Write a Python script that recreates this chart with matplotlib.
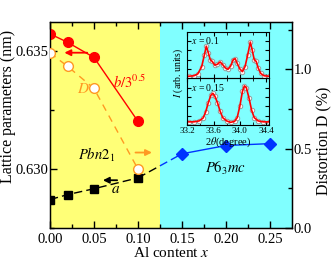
import matplotlib
matplotlib.use('Agg')
from matplotlib import pyplot as plt
from matplotlib.patches import Rectangle
import numpy as np

plt.rcParams['font.family'] = ['Liberation Serif', 'DejaVu Serif']
plt.rcParams['mathtext.fontset'] = 'stix'

# main data
al_x = [0.0, 0.02, 0.05, 0.10]
b_vals = [0.63571, 0.63535, 0.63471, 0.63200]
a_vals = [0.62869, 0.62890, 0.62915, 0.62961]
d_vals = [1.105, 1.02, 0.88, 0.37]
hex_x = [0.15, 0.20, 0.25]
hex_a = [0.63063, 0.63098, 0.63106]
boundary = 0.125

# inset XRD profiles (fraction of panel height)
tt_01 = [33.22, 33.30, 33.36, 33.42, 33.46, 33.49, 33.52, 33.55, 33.58, 33.62, 33.66,
         33.70, 33.74, 33.78, 33.82, 33.86, 33.90, 33.93, 33.96, 34.00, 34.04, 34.08,
         34.12, 34.16, 34.19, 34.22, 34.25, 34.28, 34.32, 34.37, 34.45]
i_01 = [0.04, 0.05, 0.09, 0.25, 0.50, 0.69, 0.55, 0.40, 0.36, 0.28, 0.30,
        0.35, 0.29, 0.22, 0.19, 0.26, 0.40, 0.42, 0.32, 0.20, 0.14, 0.25,
        0.50, 0.78, 0.60, 0.40, 0.36, 0.22, 0.10, 0.05, 0.04]
tt_015 = [33.22, 33.30, 33.38, 33.44, 33.48, 33.52, 33.56, 33.59, 33.62, 33.66, 33.70,
          33.74, 33.80, 33.86, 33.92, 33.96, 34.00, 34.04, 34.07, 34.10, 34.14, 34.18,
          34.22, 34.28, 34.36, 34.45]
i_015 = [0.07, 0.07, 0.09, 0.15, 0.28, 0.48, 0.64, 0.68, 0.62, 0.48, 0.30,
         0.16, 0.09, 0.06, 0.08, 0.16, 0.40, 0.72, 0.84, 0.80, 0.58, 0.32,
         0.16, 0.09, 0.07, 0.07]

red = '#ff0000'
orange = '#ff9922'
blue = '#0033ff'

fig = plt.figure(figsize=(3.35, 2.75), dpi=100)
ax = fig.add_axes([0.149, 0.172, 0.723, 0.748])
ax.axvspan(0, boundary, color='#ffff77', zorder=0, lw=0)
ax.axvspan(boundary, 0.275, color='#80ffff', zorder=0, lw=0)
ax.set_xlim(0, 0.275)
ax.set_ylim(0.62824, 0.63621)

ax.plot(al_x, b_vals, '-o', color=red, ms=7, lw=1, zorder=5)
ax.plot(al_x, a_vals, '--s', color='black', ms=5.5, lw=1, dashes=(6, 3), zorder=5)
ax.plot(hex_x, hex_a, '-D', color=blue, ms=6, lw=1, zorder=5)
# dashed link across phase boundary, black on the yellow side, blue on the cyan side
ln1, = ax.plot([al_x[-1], hex_x[0]], [a_vals[-1], hex_a[0]], '--', color='black', lw=1, dashes=(6, 3), zorder=4)
ln1.set_clip_path(Rectangle((0, 0.62), boundary, 0.02, transform=ax.transData))
ln2, = ax.plot([al_x[-1], hex_x[0]], [a_vals[-1], hex_a[0]], '--', color=blue, lw=1, dashes=(6, 3), zorder=4)
ln2.set_clip_path(Rectangle((boundary, 0.62), 0.2, 0.02, transform=ax.transData))

ax.annotate('', xy=(0.0133, 0.63491), xytext=(0.0455, 0.63491),
            arrowprops=dict(arrowstyle='-|>', color=red, lw=1.3, mutation_scale=9), zorder=6)
ax.annotate('', xy=(0.057, 0.62951), xytext=(0.0795, 0.62951),
            arrowprops=dict(arrowstyle='-|>', color='black', lw=1.3, mutation_scale=9), zorder=6)

ax.text(0.0715, 0.63342, r'$b/3^{0.5}$', color=red, fontsize=10.5)
ax.text(0.0305, 0.63338, r'$D$', color=orange, fontsize=11, va='center')
ax.text(0.032, 0.63059, r'$Pbn2_1$', fontsize=10.5, va='center')
ax.text(0.075, 0.6291, r'$a$', fontsize=11, ha='center', va='center')
ax.text(0.176, 0.63001, r'$P6_3mc$', fontsize=10.5, va='center')

ax.set_xticks([0.0, 0.05, 0.10, 0.15, 0.20, 0.25])
ax.set_xticks(np.arange(0, 0.27, 0.025), minor=True)
ax.set_xticklabels(['0.00', '0.05', '0.10', '0.15', '0.20', '0.25'])
ax.set_yticks([0.630, 0.635])
ax.set_yticks([0.6275, 0.6325], minor=True)
ax.set_yticklabels(['0.630', '0.635'])
ax.tick_params(which='both', direction='in', top=True, labelsize=10.5, width=1)
ax.tick_params(which='major', length=5)
ax.tick_params(which='minor', length=3)
ax.tick_params(axis='y', right=False, pad=1)
ax.tick_params(axis='x', pad=4)
ax.set_xlabel(r'Al content $x$', fontsize=11, labelpad=0)
ax.set_ylabel('Lattice parameters (nm)', fontsize=11.5)
ax.yaxis.set_label_coords(-0.14, 0.59)
for s in ax.spines.values():
    s.set_linewidth(1)

ax2 = ax.twinx()
ax2.set_ylim(0, 1.30)
ax2.plot(al_x, d_vals, '--o', color=orange, mfc='white', mec=orange, ms=7, lw=1,
         dashes=(5, 4), zorder=5)
ax2.annotate('', xy=(0.119, 0.475), xytext=(0.094, 0.475),
             arrowprops=dict(arrowstyle='-|>', color=orange, lw=1.3, mutation_scale=9))
ax2.set_yticks([0.0, 0.5, 1.0])
ax2.set_yticks([0.25, 0.75, 1.25], minor=True)
ax2.tick_params(which='both', direction='in', labelsize=10.5, width=1, pad=1)
ax2.tick_params(which='major', length=5)
ax2.tick_params(which='minor', length=3)
ax2.set_ylabel('Distortion D (%)', fontsize=11.5)
ax2.yaxis.set_label_coords(1.099, 0.42)

# inset
for pos, tt, iv, lab in [([0.559, 0.716, 0.245, 0.168], tt_01, i_01, r'$x$ = 0.1'),
                         ([0.559, 0.545, 0.245, 0.17], tt_015, i_015, r'$x$ = 0.15')]:
    ins = fig.add_axes(pos)
    ins.patch.set_alpha(0)
    ins.plot(tt, iv, 'o', ms=3.2, mfc='white', mec='#999999', mew=0.7)
    ins.plot(tt, iv, '-', color=red, lw=1.2)
    ins.set_xlim(33.2, 34.45)
    ins.set_ylim(0, 1)
    ins.set_xticks([33.2, 33.6, 34.0, 34.4])
    ins.set_xticks([33.4, 33.8, 34.2], minor=True)
    ins.set_yticks([0.2, 0.4, 0.6, 0.8])
    ins.set_yticklabels([])
    ins.tick_params(which='both', direction='in', top=True, right=True, labelsize=6.5, pad=1.5)
    ins.tick_params(which='major', length=3)
    ins.tick_params(which='minor', length=2)
    ins.text(0.05, 0.93, lab, transform=ins.transAxes, fontsize=7, va='top')
    if lab.endswith('0.1'):
        ins.set_xticklabels([])
    else:
        ins.set_xlabel(r'2$\theta$(degree)', fontsize=7.5, labelpad=0)
fig.text(0.532, 0.735, r'$I$ (arb. units)', fontsize=7, rotation=90, ha='center', va='center')

fig.savefig('out.png', dpi=100)
